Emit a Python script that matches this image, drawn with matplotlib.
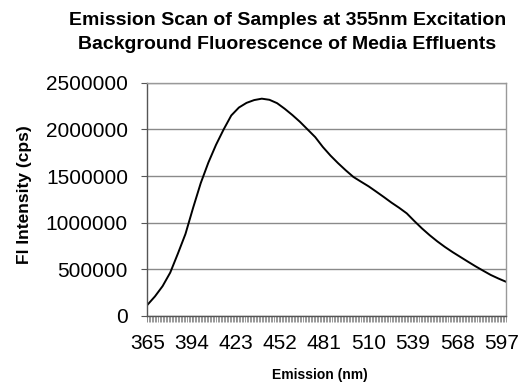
import numpy as np
import matplotlib
matplotlib.use("Agg")
import matplotlib.pyplot as plt

# emission wavelength (nm), sampled every 5 nm from the scan
wavelength = list(range(365, 601, 5))
intensity = [
    118000, 210000, 320000, 465000, 668000, 880000, 1160000, 1425000,
    1645000, 1835000, 2000000, 2150000, 2235000, 2285000, 2315000, 2330000,
    2318000, 2282000, 2222000, 2155000, 2082000, 2000000, 1918000, 1812000,
    1720000, 1638000, 1562000, 1491000, 1440000, 1390000, 1333000, 1275000,
    1215000, 1160000, 1100000, 1017000, 938000, 866000, 800000, 740000,
    685000, 634000, 583000, 533000, 486000, 440000, 402000, 367000,
]
x_labels = list(range(365, 601, 29))
y_ticks = [0, 500000, 1000000, 1500000, 2000000, 2500000]

plt.rcParams["font.family"] = ["Liberation Sans", "DejaVu Sans"]

fig = plt.figure(figsize=(5.29, 3.87), dpi=100)
ax = fig.add_axes([0.2785, 0.1835, 0.678, 0.6025])

ax.plot(wavelength, intensity, color="black", lw=1.4)

ax.set_xlim(365, 600)
ax.set_ylim(0, 2500000)
ax.set_yticks(y_ticks)
ax.set_yticklabels([str(v) for v in y_ticks])
ax.set_xticks(x_labels)
ax.set_xticklabels([str(v) for v in x_labels])
ax.set_xticks(range(365, 601), minor=True)

ax.grid(axis="y", color="#8a8a8a", lw=1.0)
ax.set_axisbelow(True)

ax.tick_params(axis="y", labelsize=15, length=4.5, width=0.8, color="#555555", pad=9.5)
ax.tick_params(axis="x", which="major", labelsize=15, length=4.5, width=0.6,
               color="#777777", pad=8.5)
ax.tick_params(axis="x", which="minor", length=4.5, width=0.6, color="#888888")

for side in ["left", "bottom"]:
    ax.spines[side].set_color("#555555")
    ax.spines[side].set_linewidth(1.0)
for side in ["top", "right"]:
    ax.spines[side].set_color("#999999")
    ax.spines[side].set_linewidth(1.0)

fig.text(0.543, 0.948, "Emission Scan of Samples at 355nm Excitation",
         ha="center", va="center", fontsize=14, fontweight="bold")
fig.text(0.543, 0.884, "Background Fluorescence of Media Effluents",
         ha="center", va="center", fontsize=14, fontweight="bold")

fig.text(0.047, 0.498, "Fl Intensity (cps)", rotation=90, ha="center", va="center",
         fontsize=12.5, fontweight="bold")
fig.text(0.604, 0.031, "Emission (nm)", ha="center", va="center",
         fontsize=10, fontweight="bold")

fig.savefig("out.png", dpi=100, facecolor="white")
